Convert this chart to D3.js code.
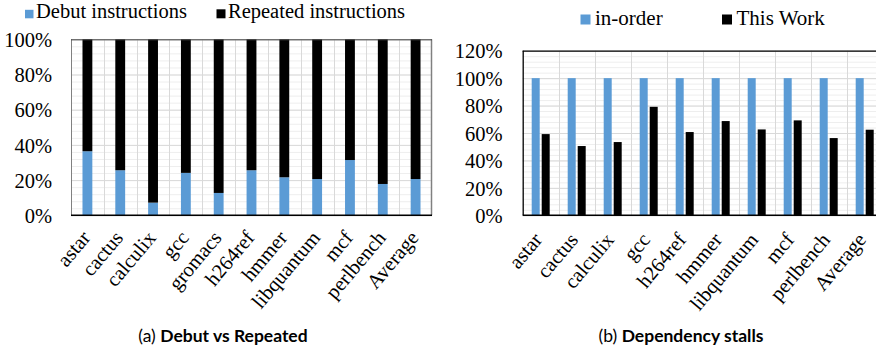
<!DOCTYPE html>
<html>
<head>
<meta charset="utf-8">
<script src="https://cdn.jsdelivr.net/npm/d3@7/dist/d3.min.js"></script>
<style>
  html, body { margin: 0; padding: 0; background: #fff; }
  svg { display: block; }
</style>
</head>
<body>
<svg id="chart" width="876" height="354"></svg>
<script>
// Benchmarks for the two panels
const catsA = ["astar", "cactus", "calculix", "gcc", "gromacs", "h264ref", "hmmer", "libquantum", "mcf", "perlbench", "Average"];
const catsB = ["astar", "cactus", "calculix", "gcc", "h264ref", "hmmer", "libquantum", "mcf", "perlbench", "Average"];

// (a) share of debut instructions (%); repeated = remainder to 100%
const debutPct = [36.4, 25.6, 7.2, 24.1, 12.7, 25.6, 21.6, 20.6, 31.4, 17.8, 20.6];
const repeatedPct = debutPct.map(d => 100 - d);

// (b) dependency stalls normalised to in-order (%)
const inOrderPct = [100, 100, 100, 100, 100, 100, 100, 100, 100, 100];
const thisWorkPct = [59.2, 50.5, 53.4, 79.1, 60.7, 68.7, 62.6, 69.2, 56.3, 62.4];

const ticksA = [0, 20, 40, 60, 80, 100];
const ticksB = [0, 20, 40, 60, 80, 100, 120];

const BLUE = "#5b9bd5";
const BLACK = "#000000";
const SERIF = '"Liberation Serif", "Times New Roman", serif';
const SANS = 'Lato, "Open Sans", sans-serif';
const LABEL_ANGLE = -50;

const svg = d3.select("#chart");

// Light minor grid every 4%, darker major grid at the labelled ticks
function minorGrid(g, y, x0, x1, maxV) {
  g.selectAll("line").data(d3.range(0, maxV + 0.001, 4)).join("line")
    .attr("x1", x0).attr("x2", x1)
    .attr("y1", d => y(d) + 0.5).attr("y2", d => y(d) + 0.5)
    .attr("stroke", "#eeeeee");
}
function majorGrid(g, y, x0, x1, ticks) {
  g.selectAll("line").data(ticks).join("line")
    .attr("x1", x0).attr("x2", x1)
    .attr("y1", d => y(d) + 0.5).attr("y2", d => y(d) + 0.5)
    .attr("stroke", "#d9d9d9");
}
function styleTicks(axisG, size) {
  axisG.attr("font-size", null).attr("font-family", null);
  axisG.selectAll("text").style("font-family", SERIF).style("font-size", size + "px").attr("fill", "#000");
}
function legend(items, size, y0, textDx) {
  const lg = svg.append("g");
  items.forEach(([t, c, lx, sz]) => {
    lg.append("rect").attr("x", lx).attr("y", y0 - sz).attr("width", sz).attr("height", sz).attr("fill", c);
    lg.append("text").attr("x", lx + sz + textDx).attr("y", y0)
      .style("font-family", SERIF).style("font-size", size + "px").text(t);
  });
}
function caption(x, label, title) {
  const cap = svg.append("text").attr("x", x).attr("y", 342).attr("text-anchor", "middle")
    .style("font-family", SANS).style("font-size", "17.5px");
  cap.append("tspan").text(label + " ");
  cap.append("tspan").attr("font-weight", "bold").text(title);
}

/* ---------- Panel (a): Debut vs Repeated ---------- */
{
  const left = 71, right = 432, top = 39.3, bottom = 215.3;
  const y = d3.scaleLinear().domain([0, 100]).range([bottom, top]);
  const xCat = d3.scaleBand().domain(catsA).range([left, right]).padding(0);
  const x = d3.scaleBand().domain(catsA).range([left, right]).paddingInner(0.7).paddingOuter(0.35);

  const g = svg.append("g");
  minorGrid(g.append("g"), y, left, right, 100);
  majorGrid(g.append("g"), y, left, right, ticksA);

  // vertical grid at category boundaries
  g.append("g").selectAll("line").data(catsA.slice(1)).join("line")
    .attr("x1", d => Math.round(xCat(d)) + 0.5).attr("x2", d => Math.round(xCat(d)) + 0.5)
    .attr("y1", top).attr("y2", bottom)
    .attr("stroke", "#d9d9d9");

  // stacked bars: debut at the bottom, repeated on top
  g.append("g").selectAll("rect").data(catsA).join("rect")
    .attr("x", d => x(d)).attr("width", x.bandwidth())
    .attr("y", (d, i) => y(debutPct[i])).attr("height", (d, i) => y(0) - y(debutPct[i]))
    .attr("fill", BLUE);
  g.append("g").selectAll("rect").data(catsA).join("rect")
    .attr("x", d => x(d)).attr("width", x.bandwidth())
    .attr("y", (d, i) => y(debutPct[i] + repeatedPct[i]))
    .attr("height", (d, i) => y(debutPct[i]) - y(debutPct[i] + repeatedPct[i]))
    .attr("fill", BLACK);

  // frame
  g.append("line").attr("x1", left + 0.5).attr("x2", left + 0.5).attr("y1", top).attr("y2", bottom).attr("stroke", "#808080");
  g.append("line").attr("x1", right - 0.5).attr("x2", right - 0.5).attr("y1", top).attr("y2", bottom).attr("stroke", "#808080").attr("stroke-width", 1.5);
  g.append("line").attr("x1", left).attr("x2", right).attr("y1", top + 0.5).attr("y2", top + 0.5).attr("stroke", "#404040");
  g.append("line").attr("x1", left).attr("x2", right).attr("y1", bottom).attr("y2", bottom).attr("stroke", "#000").attr("stroke-width", 1.5);

  const ya = g.append("g").attr("transform", `translate(${left},0)`)
    .call(d3.axisLeft(y).tickValues(ticksA).tickFormat(d => d + "%").tickSize(0).tickPadding(19));
  ya.select(".domain").remove();
  styleTicks(ya, 20.5);
  ya.selectAll("text").attr("dy", "0.35em");

  const xa = g.append("g").attr("transform", `translate(0,${bottom})`)
    .call(d3.axisBottom(xCat).tickSize(0).tickPadding(0));
  xa.select(".domain").remove();
  styleTicks(xa, 20.5);
  xa.selectAll("text").attr("text-anchor", "end").attr("dy", null).attr("y", 0)
    .attr("transform", `translate(4,23) rotate(${LABEL_ANGLE})`);

  legend([["Debut instructions", BLUE, 25, 8.5], ["Repeated instructions", BLACK, 216.5, 9]], 20.5, 18.3, 2.5);
  caption(223, "(a)", "Debut vs Repeated");
}

/* ---------- Panel (b): Dependency stalls ---------- */
{
  const left = 522.7, right = 882.7, top = 50.7, bottom = 215.3;
  const y = d3.scaleLinear().domain([0, 120]).range([bottom, top]);
  const x0 = d3.scaleBand().domain(catsB).range([left, right]).padding(0);
  const x1 = d3.scaleBand().domain(["in-order", "This Work"]).range([0, x0.bandwidth()])
    .paddingInner(0.2).paddingOuter(0.9);

  const g = svg.append("g");
  minorGrid(g.append("g"), y, left, right, 120);
  majorGrid(g.append("g"), y, left, right, ticksB);

  g.append("g").selectAll("line").data(catsB.slice(1)).join("line")
    .attr("x1", d => Math.round(x0(d)) + 0.5).attr("x2", d => Math.round(x0(d)) + 0.5)
    .attr("y1", top).attr("y2", bottom)
    .attr("stroke", "#d9d9d9");

  g.append("g").selectAll("rect").data(catsB).join("rect")
    .attr("x", d => x0(d) + x1("in-order")).attr("width", x1.bandwidth())
    .attr("y", (d, i) => y(inOrderPct[i])).attr("height", (d, i) => y(0) - y(inOrderPct[i]))
    .attr("fill", BLUE);
  g.append("g").selectAll("rect").data(catsB).join("rect")
    .attr("x", d => x0(d) + x1("This Work")).attr("width", x1.bandwidth())
    .attr("y", (d, i) => y(thisWorkPct[i])).attr("height", (d, i) => y(0) - y(thisWorkPct[i]))
    .attr("fill", BLACK);

  g.append("line").attr("x1", left + 0.5).attr("x2", left + 0.5).attr("y1", top).attr("y2", bottom).attr("stroke", "#000").attr("stroke-width", 1.3);
  g.append("line").attr("x1", left).attr("x2", right).attr("y1", top + 0.5).attr("y2", top + 0.5).attr("stroke", "#000").attr("stroke-width", 1.3);
  g.append("line").attr("x1", left).attr("x2", right).attr("y1", bottom).attr("y2", bottom).attr("stroke", "#000").attr("stroke-width", 1.5);

  const ya = g.append("g").attr("transform", `translate(${left},0)`)
    .call(d3.axisLeft(y).tickValues(ticksB).tickFormat(d => d + "%").tickSize(0).tickPadding(20));
  ya.select(".domain").remove();
  styleTicks(ya, 20.5);
  ya.selectAll("text").attr("dy", "0.35em");

  const xa = g.append("g").attr("transform", `translate(0,${bottom})`)
    .call(d3.axisBottom(x0).tickSize(0).tickPadding(0));
  xa.select(".domain").remove();
  styleTicks(xa, 20.5);
  xa.selectAll("text").attr("text-anchor", "end").attr("dy", null).attr("y", 0)
    .attr("transform", `translate(2.5,25) rotate(${LABEL_ANGLE})`);

  legend([["in-order", BLUE, 580.5, 10], ["This Work", BLACK, 722, 10]], 21, 24.5, 4.5);
  caption(681, "(b)", "Dependency stalls");
}
</script>
</body>
</html>
